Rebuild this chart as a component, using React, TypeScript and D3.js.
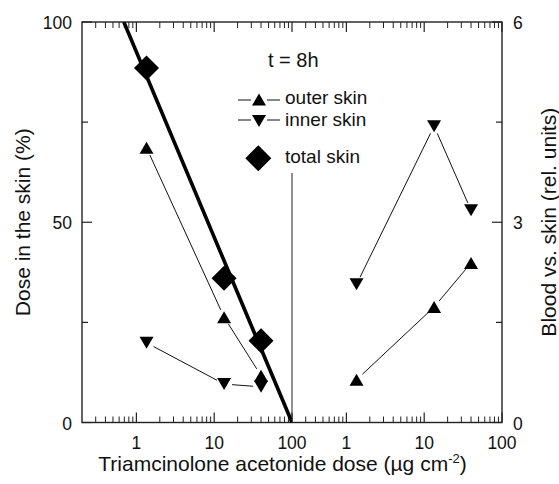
import React from "react";
import * as d3 from "d3";

// ---- data ----
const doses = [1.35, 13.4, 40];
const outerSkinPct = [68.6, 26.3, 11.7];
const innerSkinPct = [19.9, 9.6, 8.9];
const totalSkinPct = [88.5, 36.0, 20.4];
const fitDose = [0.69, 100];
const fitPct = [100, 0];
const outerBlood = [0.64, 1.73, 2.39];
const innerBlood = [2.07, 4.44, 3.18];
const xMajorTicks = [1, 10, 100];
const xTickLabels = ["1", "10", "100"];
const yLeftTicks = [0, 25, 50, 75, 100];
const yLeftLabels = [0, 50, 100];
const yRightTicks = [0, 1.5, 3, 4.5, 6];
const yRightLabels = [0, 3, 6];
const legendItems = ["outer skin", "inner skin", "total skin"];

const W = 559;
const H = 484;
const L = 82, R = 502, T = 22, B = 422.5, MID = 292;
const FONT = "'Liberation Sans', Arial, Helvetica, sans-serif";
const AX = "#222";

const xL = d3.scaleLog().domain([0.2, 100]).range([L, MID]);
const xR = d3.scaleLog().domain([0.2, 100]).range([MID, R]);
const yL = d3.scaleLinear().domain([0, 100]).range([B, T]);
const yR = d3.scaleLinear().domain([0, 6]).range([B, T]);

const triUp = "M0,-6L7,6L-7,6Z";
const triDown = "M-7,-6L7,-6L0,6Z";
const diamond = "M0,-12.5L12.5,0L0,12.5L-12.5,0Z";

function minorTicks(): number[] {
  const out: number[] = [];
  for (const dec of [0.1, 1, 10]) {
    for (let k = 2; k <= 9; k++) {
      const v = dec * k;
      if (v > 0.2 && v < 100) out.push(v);
    }
  }
  return out;
}

function Segments({ xs, ys, x, y, gap }: any) {
  const pts = xs.map((v: number, i: number) => [x(v), y(ys[i])]);
  const segs = [];
  for (let i = 0; i < pts.length - 1; i++) {
    const [x1, y1] = pts[i];
    const [x2, y2] = pts[i + 1];
    const d = Math.hypot(x2 - x1, y2 - y1);
    const ux = (x2 - x1) / d, uy = (y2 - y1) / d;
    segs.push(
      <line key={i} x1={x1 + ux * gap} y1={y1 + uy * gap} x2={x2 - ux * gap} y2={y2 - uy * gap}
        stroke="#111" strokeWidth={1} />
    );
  }
  return <g>{segs}</g>;
}

function Markers({ xs, ys, x, y, path }: any) {
  return (
    <g>
      {xs.map((v: number, i: number) => (
        <path key={i} d={path} transform={`translate(${x(v)},${y(ys[i])})`} fill="#000" />
      ))}
    </g>
  );
}

export default function App() {
  const minors = minorTicks();
  const xAxisTicks = (x: any, keyp: string) => (
    <g key={keyp}>
      {minors.map((v) => (
        <g key={v}>
          <line x1={x(v)} x2={x(v)} y1={B} y2={B - 6} stroke={AX} strokeWidth={1} />
          <line x1={x(v)} x2={x(v)} y1={T} y2={T + 6} stroke={AX} strokeWidth={1} />
        </g>
      ))}
      {xMajorTicks.map((v, i) => (
        <g key={"M" + v}>
          <line x1={x(v)} x2={x(v)} y1={B} y2={B - 10} stroke={AX} strokeWidth={1.2} />
          <line x1={x(v)} x2={x(v)} y1={T} y2={T + 10} stroke={AX} strokeWidth={1.2} />
          <text x={x(v)} y={449} textAnchor="middle" fontSize={17.5} fontFamily={FONT} fill="#111">
            {xTickLabels[i]}
          </text>
        </g>
      ))}
    </g>
  );

  const fitLine = d3.line<number>().x((d, i) => xL(fitDose[i])).y((d) => yL(d));

  return (
    <svg width={W} height={H} style={{ position: "absolute", left: 0, top: 0, background: "#fff" }}>
      <rect x={0} y={0} width={W} height={H} fill="#fff" />
      {/* frame */}
      <rect x={L} y={T} width={R - L} height={B - T} fill="none" stroke={AX} strokeWidth={1.4} />
      {/* divider */}
      <line x1={MID} x2={MID} y1={yL(62.3)} y2={B} stroke={AX} strokeWidth={1} />
      {xAxisTicks(xL, "l")}
      {xAxisTicks(xR, "r")}
      {/* left y ticks */}
      {yLeftTicks.map((v) => (
        <line key={v} x1={L} x2={L + (yLeftLabels.includes(v) ? 10 : 6)} y1={yL(v)} y2={yL(v)} stroke={AX} strokeWidth={1.2} />
      ))}
      {yLeftLabels.map((v) => (
        <text key={v} x={72} y={yL(v) + 7} textAnchor="end" fontSize={17.5} fontFamily={FONT} fill="#111">{v}</text>
      ))}
      {/* right y ticks */}
      {yRightTicks.map((v) => (
        <line key={v} x1={R} x2={R - (yRightLabels.includes(v) ? 10 : 6)} y1={yR(v)} y2={yR(v)} stroke={AX} strokeWidth={1.2} />
      ))}
      {yRightLabels.map((v) => (
        <text key={v} x={513} y={yR(v) + 7} textAnchor="start" fontSize={17.5} fontFamily={FONT} fill="#111">{v}</text>
      ))}

      {/* titles */}
      <text x={282.5} y={471} textAnchor="middle" fontSize={21} fontFamily={FONT} fill="#111">
        Triamcinolone acetonide dose (µg cm
        <tspan fontSize={13} dy={-8}>-2</tspan>
        <tspan dy={8}>)</tspan>
      </text>
      <text transform={`translate(30,${(T + B) / 2}) rotate(-90)`} textAnchor="middle" fontSize={21} fontFamily={FONT} fill="#111">
        Dose in the skin (%)
      </text>
      <text transform={`translate(556,${(T + B) / 2}) rotate(-90)`} textAnchor="middle" fontSize={21} fontFamily={FONT} fill="#111">
        Blood vs. skin (rel. units)
      </text>

      {/* left panel data */}
      <clipPath id="clipL"><rect x={L} y={T} width={MID - L} height={B - T} /></clipPath>
      <path d={fitLine(fitPct) || ""} stroke="#000" strokeWidth={3.6} fill="none" clipPath="url(#clipL)" />
      <Segments xs={doses} ys={outerSkinPct} x={xL} y={yL} gap={8} />
      <Segments xs={doses} ys={innerSkinPct} x={xL} y={yL} gap={8} />
      <Markers xs={doses} ys={outerSkinPct} x={xL} y={yL} path={triUp} />
      <Markers xs={doses} ys={innerSkinPct} x={xL} y={yL} path={triDown} />
      <Markers xs={doses} ys={totalSkinPct} x={xL} y={yL} path={diamond} />

      {/* right panel data */}
      <Segments xs={doses} ys={outerBlood} x={xR} y={yR} gap={8} />
      <Segments xs={doses} ys={innerBlood} x={xR} y={yR} gap={8} />
      <Markers xs={doses} ys={outerBlood} x={xR} y={yR} path={triUp} />
      <Markers xs={doses} ys={innerBlood} x={xR} y={yR} path={triDown} />

      {/* legend */}
      <text x={268} y={67} fontSize={20} fontFamily={FONT} fill="#111">t = 8h</text>
      <g>
        <line x1={238} x2={251} y1={100} y2={100} stroke="#111" strokeWidth={1} />
        <line x1={267} x2={280} y1={100} y2={100} stroke="#111" strokeWidth={1} />
        <path d={triUp} transform="translate(259,99.5)" fill="#000" />
        <text x={285} y={104} fontSize={19} fontFamily={FONT} fill="#111">{legendItems[0]}</text>
      </g>
      <g>
        <line x1={238} x2={251} y1={120} y2={120} stroke="#111" strokeWidth={1} />
        <line x1={267} x2={280} y1={120} y2={120} stroke="#111" strokeWidth={1} />
        <path d={triDown} transform="translate(259,121)" fill="#000" />
        <text x={285} y={125.5} fontSize={19} fontFamily={FONT} fill="#111">{legendItems[1]}</text>
      </g>
      <g>
        <path d="M0,-13L13,0L0,13L-13,0Z" transform="translate(258.3,158.3)" fill="#000" />
        <text x={285} y={163} fontSize={19} fontFamily={FONT} fill="#111">{legendItems[2]}</text>
      </g>
    </svg>
  );
}
